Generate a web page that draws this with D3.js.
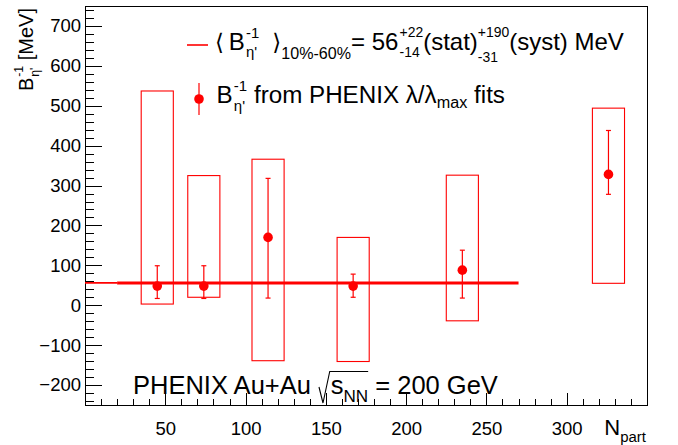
<!DOCTYPE html>
<html><head><meta charset="utf-8">
<script src="https://cdn.jsdelivr.net/npm/d3@7"></script>
<style>
html,body{margin:0;padding:0;background:#fff;}
svg text{font-family:"Liberation Sans",Arial,Helvetica,sans-serif;fill:#000;white-space:pre;}
</style></head>
<body>
<svg id="c" width="678" height="445"></svg>
<script>
// ---- data ----
const npart      = [45, 74, 114, 167, 235, 326];
const invB       = [48, 48, 170, 48, 88, 328];
const statLow    = [17, 17, 18, 20, 18, 278];
const statHigh   = [99, 99, 318, 78, 138, 438];
const systLow    = [3, 20, -139, -141, -39, 55];
const systHigh   = [537, 325, 366, 170, 326, 494];
const boxHalfW   = 10;
const meanValue  = 56;
const meanRange  = [20, 270];
const meanLead   = [0, 20];
const xMajorTicks = [50, 100, 150, 200, 250, 300];
const yMajorTicks = [-200, -100, 0, 100, 200, 300, 400, 500, 600, 700];

const svg = d3.select("#c");
const x = d3.scaleLinear().domain([0, 350]).range([85, 647]);
const y = d3.scaleLinear().domain([-250, 750]).range([405, 6]);
const red = "#ff0000";

// rich text helper
function rich(parent, parts, base) {
  const g = parent.append("g");
  let cx = 0;
  const put = (q, at) => {
    const t = g.append("text").attr("x", at + (q.dx||0)*base).attr("y", (q.dy||0)*base)
      .style("font-size", (base*(q.s||1))+"px").text(q.t);
    if (q.fam) t.style("font-family", q.fam);
    return t.node().getComputedTextLength() + (q.dx||0)*base;
  };
  const marks = {};
  parts.forEach(p => {
    if (p.mark) { marks[p.mark] = cx; return; }
    if (p.space) { cx += p.space*base; return; }
    if (p.stack) {
      let w = 0;
      p.stack.forEach(q => { w = Math.max(w, put(q, cx)); });
      cx += w;
    } else {
      cx += put(p, cx);
    }
  });
  return {g, width: cx, marks};
}

// frame
svg.append("rect").attr("x", x(0)).attr("y", y(750)).attr("width", x(350)-x(0)).attr("height", y(-250)-y(750))
  .attr("fill", "none").attr("stroke", "#000").attr("stroke-width", 1).attr("shape-rendering", "crispEdges");

// axes
const xMinor = d3.range(10, 350, 10).filter(v => v % 50 !== 0);
const yMinor = d3.range(-240, 750, 20).filter(v => v % 100 !== 0);
const gx = svg.append("g").attr("transform", `translate(0,${y(-250)})`);
gx.call(d3.axisBottom(x).tickValues(xMinor).tickSize(-6).tickFormat(""));
gx.append("g").call(d3.axisBottom(x).tickValues(xMajorTicks).tickSize(-12).tickPadding(17).tickFormat(d3.format("d")));
const gy = svg.append("g").attr("transform", `translate(${x(0)},0)`);
gy.call(d3.axisLeft(y).tickValues(yMinor).tickSize(-8.5).tickFormat(""));
gy.append("g").call(d3.axisLeft(y).tickValues(yMajorTicks).tickSize(-17).tickPadding(4).tickFormat(d3.format("d")));
svg.selectAll(".domain").remove();
svg.selectAll(".tick line").attr("stroke", "#000").attr("shape-rendering", "crispEdges");
svg.selectAll(".tick text").style("font-size", "18.5px").style("font-family", "\"Liberation Sans\",Arial,sans-serif");

// syst boxes
svg.append("g").selectAll("rect").data(npart).join("rect")
  .attr("x", d => x(d - boxHalfW)).attr("width", d => x(d + boxHalfW) - x(d - boxHalfW))
  .attr("y", (d,i) => y(systHigh[i])).attr("height", (d,i) => y(systLow[i]) - y(systHigh[i]))
  .attr("fill", "none").attr("stroke", red).attr("stroke-width", 1.1);

// mean line
svg.append("line").attr("x1", x(meanLead[0])).attr("x2", x(meanLead[1])).attr("y1", y(meanValue)).attr("y2", y(meanValue))
  .attr("stroke", red).attr("stroke-width", 1.8);
svg.append("line").attr("x1", x(meanRange[0])).attr("x2", x(meanRange[1])).attr("y1", y(meanValue)).attr("y2", y(meanValue))
  .attr("stroke", red).attr("stroke-width", 3);

// stat error bars
const eb = svg.append("g").attr("stroke", red).attr("stroke-width", 1.2);
npart.forEach((d, i) => {
  eb.append("line").attr("x1", x(d)).attr("x2", x(d)).attr("y1", y(statLow[i])).attr("y2", y(statHigh[i]));
  [statLow[i], statHigh[i]].forEach(v => eb.append("line").attr("x1", x(d)-2.5).attr("x2", x(d)+2.5).attr("y1", y(v)).attr("y2", y(v)));
});
svg.append("g").selectAll("circle").data(npart).join("circle")
  .attr("cx", d => x(d)).attr("cy", (d,i) => y(invB[i])).attr("r", 4.8).attr("fill", red);

// legend
svg.append("line").attr("x1", 187).attr("x2", 208).attr("y1", 45).attr("y2", 45).attr("stroke", red).attr("stroke-width", 1.6);
const L1 = rich(svg, [
  {t:"⟨", fam:"DejaVu Sans", s:0.95},
  {space:0.2},
  {t:"B"},
  {stack:[{t:"-1", s:0.62, dy:-0.5, dx:0.05}, {t:"η'", s:0.62, dy:0.32, dx:0.05}]},
  {space:0.55},
  {t:"⟩", fam:"DejaVu Sans", s:0.95},
  {t:"10%-60%", s:0.67, dy:0.38},
  {t:"= 56"},
  {stack:[{t:"+22", s:0.58, dy:-0.52, dx:0.05}, {t:"-14", s:0.58, dy:0.33, dx:0.05}]},
  {t:"(stat)"},
  {stack:[{t:"+190", s:0.58, dy:-0.52}, {t:"-31", s:0.58, dy:0.52}]},
  {t:"(syst) MeV"}
], 24);
L1.g.attr("transform", "translate(215,49.5)");

svg.append("line").attr("x1", 199).attr("x2", 199).attr("y1", 83).attr("y2", 115).attr("stroke", red).attr("stroke-width", 1.2);
svg.append("circle").attr("cx", 199).attr("cy", 99).attr("r", 4.8).attr("fill", red);
const L2 = rich(svg, [
  {t:"B"},
  {stack:[{t:"-1", s:0.62, dy:-0.5, dx:0.05}, {t:"η'", s:0.62, dy:0.32, dx:0.05}]},
  {t:" from PHENIX λ/λ"},
  {t:"max", s:0.67, dy:0.2},
  {t:" fits"}
], 24.2);
L2.g.attr("transform", "translate(216.5,103)");

// bottom label
const T = rich(svg, [
  {t:"PHENIX Au+Au "},
  {mark:"r0"},
  {space:0.5},
  {mark:"r1"},
  {t:"s"},
  {t:"NN", s:0.67, dy:0.3},
  {mark:"r2"},
  {t:" = 200 GeV"}
], 25.5);
const tx = 133, ty = 394;
T.g.attr("transform", `translate(${tx},${ty})`);
{
  const a = tx + T.marks.r0, b = tx + T.marks.r1, e = tx + T.marks.r2;
  svg.append("path").attr("d", `M${a+1},${ty-7} L${a+5},${ty+9} L${b-1},${ty-22.5} L${e},${ty-22.5}`)
    .attr("fill", "none").attr("stroke", "#000").attr("stroke-width", 1.1);
}

// axis titles
const YT = rich(svg, [
  {t:"B"},
  {stack:[{t:"-1", s:0.62, dy:-0.5, dx:0.04}, {t:"η'", s:0.62, dy:0.32, dx:0.04}]},
  {t:" [MeV]"}
], 20);
YT.g.attr("transform", `translate(33,${8 + YT.width}) rotate(-90)`);

const XT = rich(svg, [
  {t:"N"},
  {t:"part", s:0.68, dy:0.3}
], 22);
XT.g.attr("transform", `translate(${646 - XT.width},435)`);
</script>
</body></html>
